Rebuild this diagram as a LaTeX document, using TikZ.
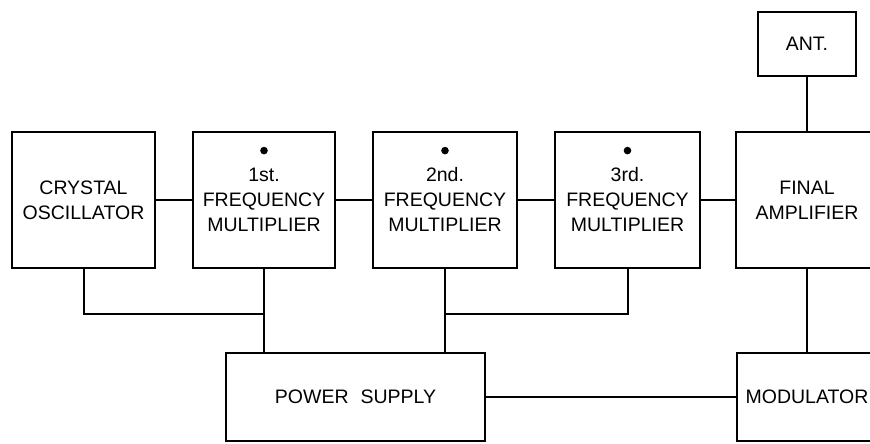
\documentclass[tikz,border=0pt]{standalone}
\usepackage{fontspec}
\setmainfont{Liberation Sans}
\usetikzlibrary{calc}
\begin{document}
\begin{tikzpicture}[x=1pt,y=-1pt,
  txt/.style={font=\fontsize{19.5}{25}\selectfont},
  blk/.style={draw,line width=2.8pt,minimum width=#1,minimum height=136pt,inner sep=0pt,align=center,txt},
  blk/.default=143pt,
  box/.style={draw,line width=2.8pt,inner sep=0pt,txt},
  wire/.style={line width=2pt},
  dotmark/.style={fill=black}]
\useasboundingbox (0,0) rectangle (870,444);
\clip (0,0) rectangle (870,444);
\node[blk=143pt] (osc) at (83.5,200) {CRYSTAL\\OSCILLATOR};
\node[blk=142pt] (m1) at (264,200) {1st.\\FREQUENCY\\MULTIPLIER};
\node[blk=144pt] (m2) at (445,200) {2nd.\\FREQUENCY\\MULTIPLIER};
\node[blk=145pt] (m3) at (627.5,200) {3rd.\\FREQUENCY\\MULTIPLIER};
\node[blk=142pt] (amp) at (807,200) {FINAL\\AMPLIFIER};
\node[box,minimum width=98pt,minimum height=64pt] (ant) at (807,44) {ANT.};
\node[box,minimum width=259pt,minimum height=88pt] (ps) at (355.5,397) {POWER\hspace{12pt}SUPPLY};
\node[box,minimum width=140pt,minimum height=88pt] (mod) at (807,397) {MODULATOR};
\foreach \n in {m1,m2,m3} \fill[dotmark] ($(\n.north)+(0,20)$) circle (3.8pt);
\draw[wire] (osc) -- (m1);
\draw[wire] (m1) -- (m2);
\draw[wire] (m2) -- (m3);
\draw[wire] (m3) -- (amp);
\draw[wire] (ant) -- (amp);
\path (m1.south) ++(0,45) coordinate (j1);
\path (m2.south) ++(0,45) coordinate (j2);
\draw[wire] (m1.south) -- (m1.south |- ps.north);
\draw[wire] (m2.south) -- (m2.south |- ps.north);
\draw[wire] (osc.south) |- (j1);
\draw[wire] (m3.south) |- (j2);
\draw[wire] (amp.south) -- (mod.north);
\draw[wire] (ps.east) -- (mod.west);
\end{tikzpicture}
\end{document}
